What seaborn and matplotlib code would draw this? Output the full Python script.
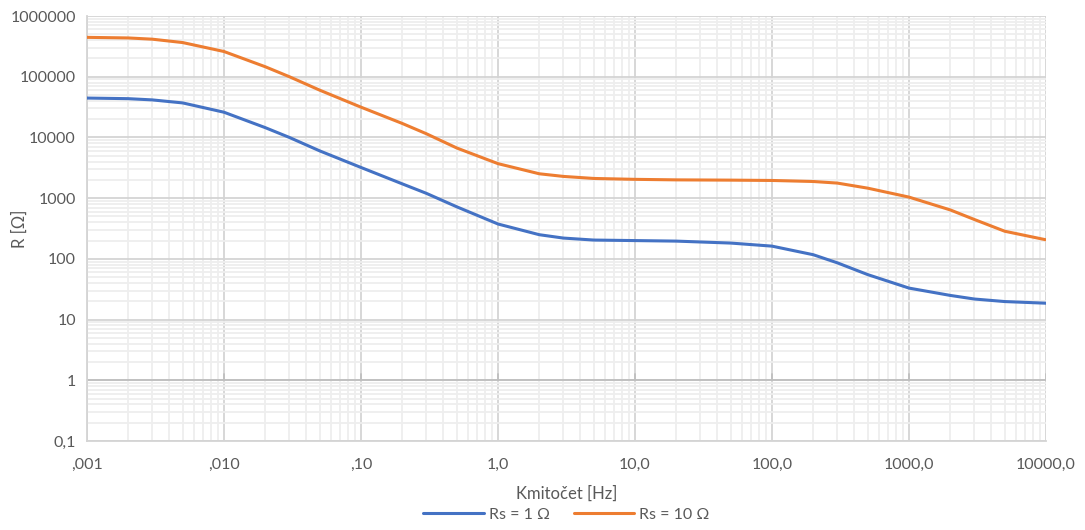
import pandas as pd
import matplotlib
matplotlib.use('Agg')
import matplotlib.pyplot as plt
import seaborn as sns
from matplotlib.ticker import FixedLocator, FixedFormatter, NullFormatter, LogLocator

# values (log-log)
freq = [0.001, 0.002, 0.003, 0.005, 0.01, 0.02, 0.03, 0.05, 0.1, 0.2, 0.3, 0.5,
        1, 2, 3, 5, 10, 20, 50, 100, 200, 300, 500, 1000, 2000, 3000, 5000, 10000]
r_rs1 = [44500, 43500, 41500, 37000, 26000, 14500, 10000, 6000, 3200, 1720, 1200, 720,
         375, 250, 220, 204, 200, 196, 182, 162, 117, 86, 55, 33, 25, 21.8, 19.8, 18.6]
r_rs10 = [445000, 435000, 415000, 365000, 260000, 146000, 100000, 60000, 31500, 17000, 11500, 6700,
          3700, 2520, 2280, 2110, 2040, 2000, 1980, 1955, 1880, 1770, 1460, 1040, 640, 445, 285, 206]
series_names = ['Rs = 1 Ω', 'Rs = 10 Ω']

x_ticks = [0.001, 0.01, 0.1, 1, 10, 100, 1000, 10000]
x_labels = [',001', ',010', ',10', '1,0', '10,0', '100,0', '1000,0', '10000,0']
y_ticks = [0.1, 1, 10, 100, 1000, 10000, 100000, 1000000]
y_labels = ['0,1', '1', '10', '100', '1000', '10000', '100000', '1000000']

df = pd.concat([
    pd.DataFrame({'f': freq, 'R': r_rs1, 'serie': series_names[0]}),
    pd.DataFrame({'f': freq, 'R': r_rs10, 'serie': series_names[1]}),
])

sns.set_style('white')
plt.rcParams['font.family'] = ['Lato', 'DejaVu Sans']

fig = plt.figure(figsize=(10.85, 5.3), dpi=100)
ax = fig.add_axes([87 / 1085, 1 - 441 / 530, (1046 - 87) / 1085, (441 - 16) / 530])

ax.set_xscale('log')
ax.set_yscale('log')
ax.set_xlim(0.001, 10000)
ax.set_ylim(0.1, 1000000)

# grid: light minor lines, darker major lines (Excel look)
ax.xaxis.set_minor_locator(LogLocator(base=10, subs=range(2, 10), numticks=20))
ax.yaxis.set_minor_locator(LogLocator(base=10, subs=range(2, 10), numticks=20))
ax.xaxis.set_minor_formatter(NullFormatter())
ax.yaxis.set_minor_formatter(NullFormatter())
ax.grid(True, which='minor', color='#eeeeee', linewidth=1.3)
ax.grid(True, which='major', color='#d4d4d4', linewidth=1.3)
ax.set_axisbelow(True)

# Excel-style horizontal axis crossing at 1
ax.axhline(1, color='#bfbfbf', linewidth=1.3, zorder=1.5)
for xt in x_ticks:
    ax.plot([xt, xt], [1, 1.25], color='#bfbfbf', linewidth=1.3, zorder=1.5)

sns.lineplot(data=df, x='f', y='R', hue='serie', palette=['#4472C4', '#ED7D31'],
             linewidth=2.2, ax=ax, legend=True, zorder=3)

ax.xaxis.set_major_locator(FixedLocator(x_ticks))
ax.xaxis.set_major_formatter(FixedFormatter(x_labels))
ax.yaxis.set_major_locator(FixedLocator(y_ticks))
ax.yaxis.set_major_formatter(FixedFormatter(y_labels))
ax.tick_params(axis='both', which='both', length=0, labelsize=11.5, labelcolor='#595959')
ax.tick_params(axis='x', pad=12)
ax.tick_params(axis='y', pad=8)

for side in ['top', 'right']:
    ax.spines[side].set_visible(False)
ax.spines['left'].set_color('#d4d4d4')
ax.spines['bottom'].set_color('#d4d4d4')
ax.spines['left'].set_linewidth(1.3)
ax.spines['bottom'].set_linewidth(1.3)

ax.set_xlabel('Kmitočet [Hz]', fontsize=12, color='#595959', labelpad=10)
ax.set_ylabel('R [Ω]', fontsize=12, color='#595959', labelpad=10)
ax.yaxis.set_label_coords(-0.062, 0.5)

handles, labels = ax.get_legend_handles_labels()
ax.legend(handles, labels, loc='center', bbox_to_anchor=(0.5, -0.174), ncol=2, frameon=False,
          fontsize=11.5, labelcolor='#595959', handlelength=3.8, columnspacing=1.5, handletextpad=0.3)

fig.savefig('out.png', dpi=100)
